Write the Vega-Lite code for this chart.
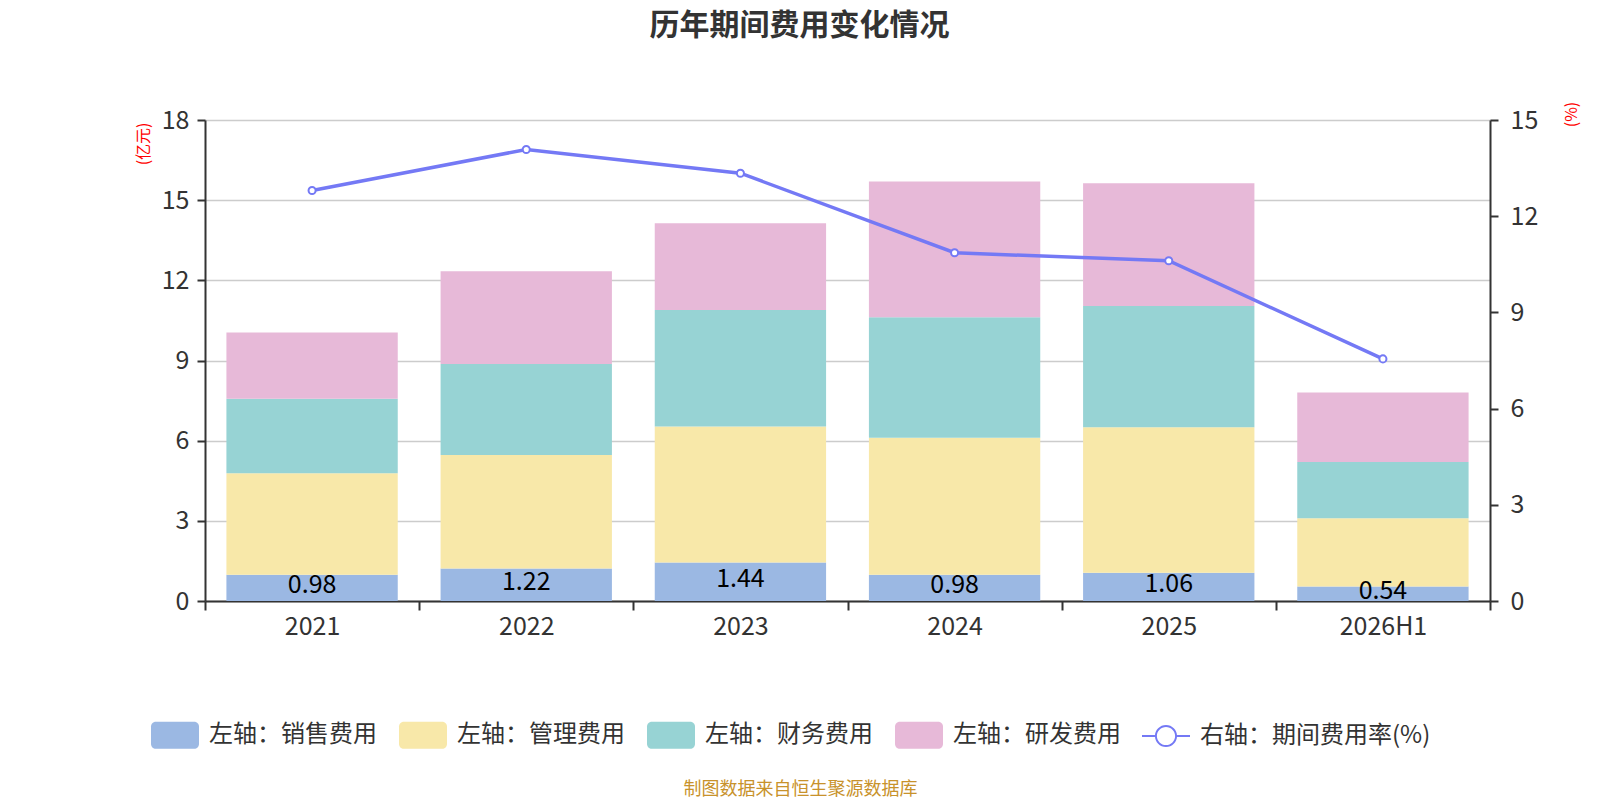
{
  "$schema": "https://vega.github.io/schema/vega-lite/v6.json",
  "autosize": {"type": "none"},
  "width": 1285,
  "height": 481,
  "padding": {"left": 205, "top": 120, "right": 110, "bottom": 199},
  "title": {"text": "历年期间费用变化情况", "anchor": "middle", "dx": -48, "offset": 60,
            "fontSize": 30, "fontWeight": "bold", "color": "#333333", "font": "Noto Sans CJK SC"},
  "config": {
    "view": {"stroke": null},
    "font": "Noto Sans CJK SC",
    "axis": {"domainColor": "#333333", "domainWidth": 2, "tickColor": "#333333", "tickWidth": 2,
             "labelColor": "#333333", "labelFontSize": 25, "labelFont": "Noto Sans CJK SC",
             "titleFont": "Noto Sans CJK SC", "titleFontWeight": "normal"}
  },
  "datasets": {
    "bars": [
      {"year": "2021", "type": "左轴：销售费用", "k": 1, "value": 0.98},
      {"year": "2021", "type": "左轴：管理费用", "k": 2, "value": 3.80},
      {"year": "2021", "type": "左轴：财务费用", "k": 3, "value": 2.79},
      {"year": "2021", "type": "左轴：研发费用", "k": 4, "value": 2.48},
      {"year": "2022", "type": "左轴：销售费用", "k": 1, "value": 1.22},
      {"year": "2022", "type": "左轴：管理费用", "k": 2, "value": 4.24},
      {"year": "2022", "type": "左轴：财务费用", "k": 3, "value": 3.41},
      {"year": "2022", "type": "左轴：研发费用", "k": 4, "value": 3.47},
      {"year": "2023", "type": "左轴：销售费用", "k": 1, "value": 1.44},
      {"year": "2023", "type": "左轴：管理费用", "k": 2, "value": 5.09},
      {"year": "2023", "type": "左轴：财务费用", "k": 3, "value": 4.36},
      {"year": "2023", "type": "左轴：研发费用", "k": 4, "value": 3.25},
      {"year": "2024", "type": "左轴：销售费用", "k": 1, "value": 0.98},
      {"year": "2024", "type": "左轴：管理费用", "k": 2, "value": 5.13},
      {"year": "2024", "type": "左轴：财务费用", "k": 3, "value": 4.51},
      {"year": "2024", "type": "左轴：研发费用", "k": 4, "value": 5.08},
      {"year": "2025", "type": "左轴：销售费用", "k": 1, "value": 1.06},
      {"year": "2025", "type": "左轴：管理费用", "k": 2, "value": 5.44},
      {"year": "2025", "type": "左轴：财务费用", "k": 3, "value": 4.54},
      {"year": "2025", "type": "左轴：研发费用", "k": 4, "value": 4.59},
      {"year": "2026H1", "type": "左轴：销售费用", "k": 1, "value": 0.54},
      {"year": "2026H1", "type": "左轴：管理费用", "k": 2, "value": 2.56},
      {"year": "2026H1", "type": "左轴：财务费用", "k": 3, "value": 2.10},
      {"year": "2026H1", "type": "左轴：研发费用", "k": 4, "value": 2.60}
    ],
    "rate": [
      {"year": "2021", "rate": 12.80},
      {"year": "2022", "rate": 14.08},
      {"year": "2023", "rate": 13.34},
      {"year": "2024", "rate": 10.86},
      {"year": "2025", "rate": 10.61},
      {"year": "2026H1", "rate": 7.55}
    ]
  },
  "encoding": {
    "x": {
      "field": "year", "type": "nominal", "sort": null,
      "scale": {"paddingInner": 0, "paddingOuter": 0},
      "axis": {"title": "制图数据来自恒生聚源数据库", "titleColor": "#c8922b", "titleFontSize": 18,
               "titleX": 595, "titleY": 188, "titleAlign": "center", "titleBaseline": "middle",
               "labelAngle": 0, "labelPadding": 4, "tickBand": "extent", "tickSize": 9, "grid": false}
    }
  },
  "layer": [
    {
      "data": {"name": "bars"},
      "mark": {"type": "bar", "width": {"band": 0.8}},
      "encoding": {
        "y": {
          "field": "value", "type": "quantitative", "scale": {"domain": [0, 18]},
          "axis": {"title": "(亿元)", "titleColor": "#ff0000", "titleFontSize": 16, "titleAngle": -90,
                   "titleX": -62, "titleY": 2, "titleAlign": "right", "titleBaseline": "middle",
                   "values": [0, 3, 6, 9, 12, 15, 18], "tickSize": 8, "labelPadding": 8,
                   "gridColor": "#cccccc", "gridWidth": 1.5}
        },
        "color": {
          "field": "type", "type": "nominal",
          "scale": {"domain": ["左轴：销售费用", "左轴：管理费用", "左轴：财务费用", "左轴：研发费用", "右轴：期间费用率(%)"],
                    "range": ["#9bb8e3", "#f8e8a9", "#97d3d4", "#e7b9d8", "#7479f5"]},
          "legend": {
            "orient": "none", "direction": "horizontal", "columns": 5,
            "legendX": -54, "legendY": 591, "title": null, "padding": 0,
            "symbolSize": 2304, "labelFontSize": 24, "labelColor": "#333333", "labelOffset": 10,
            "columnPadding": 21, "labelLimit": 400, "symbolStrokeWidth": 0,
            "encode": {"symbols": {"update": {
              "shape": {"signal": "datum.value === '右轴：期间费用率(%)' ? 'M-1,-0.042H-0.46V0.042H-1Z M0.46,-0.042H1V0.042H0.46Z M0.46,0A0.46,0.46 0 1 1 -0.46,0A0.46,0.46 0 1 1 0.46,0Z M0.38,0A0.38,0.38 0 1 0 -0.38,0A0.38,0.38 0 1 0 0.38,0Z' : 'M-0.8,-0.56H0.8A0.2,0.2 0 0 1 1,-0.36V0.36A0.2,0.2 0 0 1 0.8,0.56H-0.8A0.2,0.2 0 0 1 -1,0.36V-0.36A0.2,0.2 0 0 1 -0.8,-0.56Z'"}
            }}}
          }
        },
        "order": {"field": "k"}
      }
    },
    {
      "data": {"name": "bars"},
      "transform": [{"filter": "datum.k === 1"}],
      "mark": {"type": "text", "baseline": "middle", "fontSize": 25, "color": "#000000", "dy": -3},
      "encoding": {
        "y": {"field": "value", "type": "quantitative", "scale": {"domain": [0, 36]}, "axis": null},
        "text": {"field": "value", "type": "quantitative", "format": ".2f"}
      }
    },
    {
      "data": {"name": "rate"},
      "mark": {"type": "line", "color": "#7479f5", "strokeWidth": 3.5,
               "point": {"filled": true, "fill": "#ffffff", "stroke": "#7479f5", "strokeWidth": 2, "size": 50}},
      "encoding": {
        "y": {
          "field": "rate", "type": "quantitative", "scale": {"domain": [0, 15]},
          "axis": {"orient": "right", "title": "(%)", "titleColor": "#ff0000", "titleFontSize": 16, "titleAngle": -90,
                   "titleX": 81, "titleY": -6, "titleAlign": "center", "titleBaseline": "middle",
                   "values": [0, 3, 6, 9, 12, 15], "tickSize": 8, "labelPadding": 12, "grid": false}
        }
      }
    }
  ],
  "resolve": {"scale": {"y": "independent"}}
}
